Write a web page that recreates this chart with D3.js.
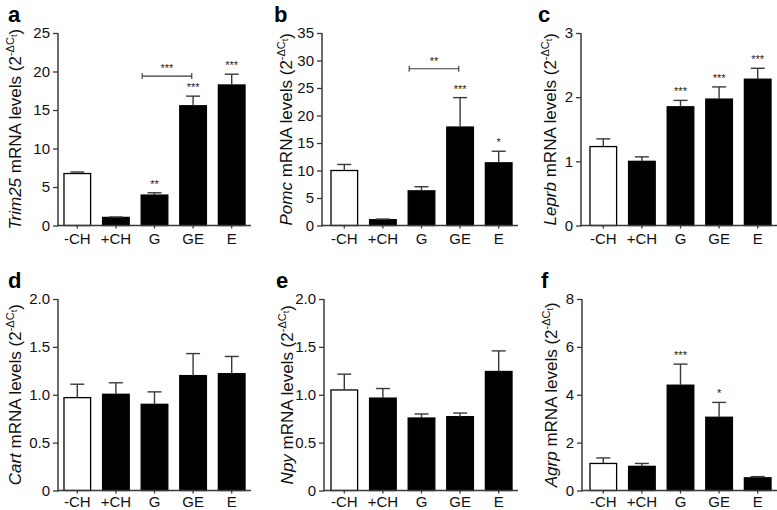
<!DOCTYPE html>
<html>
<head>
<meta charset="utf-8">
<script src="https://cdn.jsdelivr.net/npm/d3@7"></script>
<style>
  body { margin: 0; background: #fff; }
  svg { display: block; font-family: "Liberation Sans", Arial, sans-serif; }
</style>
</head>
<body>
<svg width="777" height="510"></svg>
<script>
// group names on the x axis
var categories = ["-CH", "+CH", "G", "GE", "E"];

// mean and SEM (upper error) per panel
var trim25Mean = [6.75, 1.05, 3.95, 15.55, 18.25],
    trim25Err  = [0.2, 0.05, 0.3, 1.25, 1.4],
    trim25Sig  = ["", "", "**", "***", "***"];

var pomcMean = [10.0, 1.05, 6.3, 17.9, 11.4],
    pomcErr  = [1.1, 0.12, 0.75, 5.35, 2.1],
    pomcSig  = ["", "", "", "***", "*"];

var leprbMean = [1.23, 1.0, 1.85, 1.97, 2.28],
    leprbErr  = [0.12, 0.07, 0.1, 0.19, 0.17],
    leprbSig  = ["", "", "***", "***", "***"];

var cartMean = [0.97, 1.005, 0.9, 1.2, 1.22],
    cartErr  = [0.14, 0.12, 0.13, 0.23, 0.18],
    cartSig  = ["", "", "", "", ""];

var npyMean = [1.05, 0.965, 0.757, 0.771, 1.243],
    npyErr  = [0.165, 0.1, 0.042, 0.038, 0.215],
    npySig  = ["", "", "", "", ""];

var agrpMean = [1.13, 1.01, 4.4, 3.06, 0.53],
    agrpErr  = [0.23, 0.12, 0.88, 0.62, 0.05],
    agrpSig  = ["", "", "***", "*", ""];

// y tick values and their labels
var trim25Ticks = [0, 5, 10, 15, 20, 25],
    pomcTicks   = [0, 5, 10, 15, 20, 25, 30, 35],
    leprbTicks  = [0, 1, 2, 3],
    cartTicks   = [0, 0.5, 1.0, 1.5, 2.0],
    npyTicks    = [0, 0.5, 1.0, 1.5, 2.0],
    agrpTicks   = [0, 2, 4, 6, 8];
var halfTickLabels = ["0", "0.5", "1.0", "1.5", "2.0"];

// G vs GE comparison brackets
var trim25Bracket = {y: 19.4, label: "***"},
    pomcBracket   = {y: 28.5, label: "**"};

var svg = d3.select("svg");
var axisColor = "#3a3a3a";

var panels = [
  {letter: "a", gene: "Trim25", mean: trim25Mean, err: trim25Err, sig: trim25Sig, ticks: trim25Ticks,
   ax: 58, bx: 58, top: 33, bottom: 225.5, lx: 8, labX: 15, bracket: trim25Bracket},
  {letter: "b", gene: "Pomc", mean: pomcMean, err: pomcErr, sig: pomcSig, ticks: pomcTicks,
   ax: 322, bx: 325, top: 33, bottom: 225.5, lx: 274, labX: 286, bracket: pomcBracket},
  {letter: "c", gene: "Leprb", mean: leprbMean, err: leprbErr, sig: leprbSig, ticks: leprbTicks,
   ax: 581, bx: 584, top: 33, bottom: 225.5, lx: 538, labX: 550},
  {letter: "d", gene: "Cart", mean: cartMean, err: cartErr, sig: cartSig, ticks: cartTicks, tickLabels: halfTickLabels,
   ax: 58, bx: 58, top: 299, bottom: 490.5, lx: 8, labX: 15},
  {letter: "e", gene: "Npy", mean: npyMean, err: npyErr, sig: npySig, ticks: npyTicks, tickLabels: halfTickLabels,
   ax: 324, bx: 325, top: 299, bottom: 490.5, lx: 276, labX: 287},
  {letter: "f", gene: "Agrp", mean: agrpMean, err: agrpErr, sig: agrpSig, ticks: agrpTicks,
   ax: 582, bx: 584, top: 299, bottom: 490.5, lx: 541, labX: 551}
];

panels.forEach(function(p) {
  var g = svg.append("g");
  var lowerRow = p.top > 200;

  var x = d3.scaleBand().domain(categories)
            .range([p.bx, p.bx + 193])
            .paddingInner(0.31).paddingOuter(0.155);
  var y = d3.scaleLinear()
            .domain([0, p.ticks[p.ticks.length - 1]])
            .range([p.bottom, p.top]);

  // bars
  g.selectAll(".bar")
   .data(p.mean)
   .enter().append("rect")
   .attr("x", function(d, i) { return x(categories[i]); })
   .attr("y", function(d) { return y(d); })
   .attr("width", x.bandwidth())
   .attr("height", function(d) { return y(0) - y(d); })
   .attr("fill", function(d, i) { return i === 0 ? "#fff" : "#000"; })
   .attr("stroke", "#000")
   .attr("stroke-width", 1.3);

  // error bars (upper only)
  var capW = 7;
  p.mean.forEach(function(m, i) {
    var cx = x(categories[i]) + x.bandwidth() / 2,
        yt = y(m + p.err[i]);
    g.append("line").attr("x1", cx).attr("x2", cx)
     .attr("y1", y(m)).attr("y2", yt)
     .attr("stroke", axisColor).attr("stroke-width", 1.4);
    g.append("line").attr("x1", cx - capW).attr("x2", cx + capW)
     .attr("y1", yt).attr("y2", yt)
     .attr("stroke", axisColor).attr("stroke-width", 1.4);
    if (p.sig[i]) {
      g.append("text")
       .attr("x", cx).attr("y", yt - 5)
       .attr("text-anchor", "middle")
       .attr("font-size", 11).attr("fill", "#222")
       .text(p.sig[i]);
    }
  });

  // comparison bracket
  if (p.bracket) {
    var bx1 = x("G") + 1,
        bx2 = x("GE") + x.bandwidth() * 0.45,
        by = y(p.bracket.y);
    g.append("path")
     .attr("d", "M" + bx1 + "," + (by - 3) + "V" + (by + 3) + "M" + bx1 + "," + by + "H" + bx2 +
                "M" + bx2 + "," + (by - 3) + "V" + (by + 3))
     .attr("stroke", axisColor).attr("stroke-width", 1.1).attr("fill", "none");
    g.append("text")
     .attr("x", (bx1 + bx2) / 2).attr("y", by - 4)
     .attr("text-anchor", "middle")
     .attr("font-size", 11).attr("fill", "#222")
     .text(p.bracket.label);
  }

  // y axis
  var yAxis = g.append("g")
   .attr("transform", "translate(" + p.ax + ",0)")
   .call(d3.axisLeft(y).tickValues(p.ticks).tickSize(5).tickPadding(3)
     .tickFormat(function(d, i) { return p.tickLabels ? p.tickLabels[i] : d; }));
  yAxis.select(".domain").attr("d", "M0," + p.top + "V" + (p.bottom + 1));

  // x axis
  var xAxis = g.append("g")
   .attr("transform", "translate(0," + p.bottom + ")")
   .call(d3.axisBottom(x).tickSize(3).tickPadding(lowerRow ? 2.5 : 4.5));
  xAxis.select(".domain").attr("d", "M" + p.ax + ",0H" + (p.bx + 193));

  [yAxis, xAxis].forEach(function(a) {
    a.select(".domain").attr("stroke", axisColor).attr("stroke-width", 1.5);
    a.selectAll(".tick line").attr("stroke", axisColor).attr("stroke-width", 1.3);
    a.selectAll(".tick text").attr("fill", "#111")
     .attr("font-size", 15).attr("font-family", "Liberation Sans, Arial, sans-serif");
  });

  // y label
  var cy = (p.top + p.bottom) / 2;
  var lab = g.append("text")
   .attr("transform", "translate(" + p.labX + "," + cy + ") rotate(-90)")
   .attr("text-anchor", "middle")
   .attr("dy", "0.35em")
   .attr("font-size", 17).attr("fill", "#111");
  lab.append("tspan").attr("font-style", "italic").text(p.gene);
  lab.append("tspan").text(" mRNA levels (2");
  lab.append("tspan").attr("font-size", 11).attr("dy", -7).text("-ΔC");
  lab.append("tspan").attr("font-size", 9).attr("dy", 3).text("t");
  lab.append("tspan").attr("dy", 4).text(")");

  // panel letter
  svg.append("text")
   .attr("x", p.lx).attr("y", p.top - 11)
   .attr("font-size", 22).attr("font-weight", "bold")
   .attr("font-family", "Liberation Sans, Arial, sans-serif")
   .text(p.letter);
});
</script>
</body>
</html>
